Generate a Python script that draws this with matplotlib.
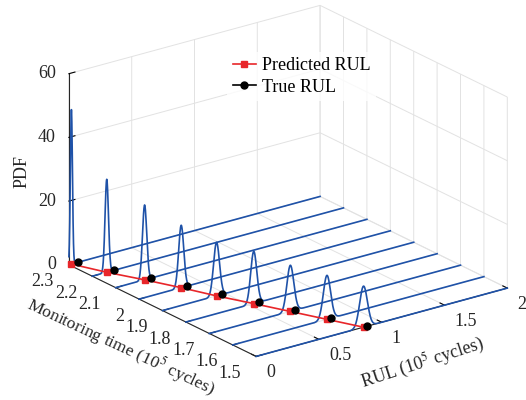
import numpy as np
import matplotlib
matplotlib.use("Agg")
import matplotlib.pyplot as plt
from matplotlib.lines import Line2D
from mpl_toolkits.mplot3d import proj3d

plt.rcParams["font.family"] = ["Liberation Serif", "DejaVu Serif"]
plt.rcParams["mathtext.fontset"] = "stix"

# monitoring times (1e5 cycles) and RUL estimates at each time
monitor_time = [2.3, 2.2, 2.1, 2.0, 1.9, 1.8, 1.7, 1.6, 1.5]
pred_rul = [0.02, 0.115, 0.23, 0.335, 0.43, 0.54, 0.645, 0.75, 0.855]
true_rul = [0.073, 0.174, 0.281, 0.379, 0.475, 0.581, 0.68, 0.78, 0.88]
pdf_peak = [48.5, 29.2, 23.5, 19.6, 16.8, 16.4, 14.5, 13.8, 12.9]

rul_ticks = [0, 0.5, 1, 1.5, 2]
rul_ticklabels = ["0", "0.5", "1", "1.5", "2"]
time_ticks = [1.5, 1.6, 1.7, 1.8, 1.9, 2.0, 2.1, 2.2, 2.3]
time_ticklabels = ["1.5", "1.6", "1.7", "1.8", "1.9", "2", "2.1", "2.2", "2.3"]
pdf_ticks = [0, 20, 40, 60]
pdf_ticklabels = ["0", "20", "40", "60"]

BLUE = "#1f52a8"
RED = "#e8262a"
GRID = "#e2e2e2"
AXC = "#262626"
FS = 13
W, H = 526, 400

fig = plt.figure(figsize=(W / 100, H / 100), dpi=100)
ax = fig.add_subplot(111, projection="3d", proj_type="ortho")
# square axes of 600 px centred on the projected box
S = 600
cx, cy = 280, 211
ax.set_position([(cx - S / 2) / W, (cy - S / 2) / H, S / W, S / H])
ax.computed_zorder = False
ax.view_init(elev=21.4, azim=-126.7)
ax.set_box_aspect((1, 1, 0.655), zoom=0.79)

rul_grid = np.linspace(0, 2, 1201)
for t, mu, peak in zip(monitor_time, pred_rul, pdf_peak):
    sigma = 1.0 / (peak * np.sqrt(2 * np.pi))
    pdf = peak * np.exp(-0.5 * ((rul_grid - mu) / sigma) ** 2)
    ax.plot(rul_grid, np.full_like(rul_grid, t), pdf, color=BLUE, lw=1.2,
            zorder=2, clip_on=False)

ax.plot(pred_rul, monitor_time, np.zeros(len(pred_rul)), color=RED, lw=1.2,
        marker="s", ms=5, zorder=4, clip_on=False)
ax.plot(true_rul, monitor_time, np.zeros(len(true_rul)), color="k", lw=0,
        marker="o", ms=5, zorder=5, clip_on=False)

ax.set_xlim(0, 2, view_margin=0)
ax.set_ylim(1.5, 2.3, view_margin=0)
ax.set_zlim(0, 60, view_margin=0)
ax.set_xticks(rul_ticks)
ax.set_yticks(time_ticks)
ax.set_zticks(pdf_ticks)
ax.set_xticklabels([])
ax.set_yticklabels([])
ax.set_zticklabels([])

for axis in (ax.xaxis, ax.yaxis, ax.zaxis):
    axis.set_pane_color((1, 1, 1, 0))
    axis.pane.set_edgecolor(GRID)
    axis.line.set_color(AXC)
    axis.line.set_linewidth(0.8)
    axis._axinfo["grid"]["color"] = GRID
    axis._axinfo["grid"]["linewidth"] = 0.7
    axis._axinfo["tick"]["inward_factor"] = 0.0
    axis._axinfo["tick"]["outward_factor"] = 0.3
    axis._axinfo["tick"]["color"] = AXC


# tick labels placed MATLAB-style next to the projected tick positions
fig.canvas.draw()
M = ax.get_proj()


def to_px(x, y, z):
    xs, ys, _ = proj3d.proj_transform(x, y, z, M)
    return ax.transData.transform((xs, ys))


for t, lab in zip(time_ticks, time_ticklabels):
    px, py = to_px(0, t, 0)
    fig.text((px - 15) / W, (py - 17) / H, lab, fontsize=FS, color=AXC,
             ha="right", va="center")
for r, lab in zip(rul_ticks, rul_ticklabels):
    px, py = to_px(r, 1.5, 0)
    fig.text((px + 10) / W, (py - 16.5) / H, lab, fontsize=FS, color=AXC,
             ha="left", va="center")
for z, lab in zip(pdf_ticks, pdf_ticklabels):
    px, py = to_px(0, 2.3, z)
    fig.text((px - 13) / W, py / H, lab, fontsize=FS, color=AXC,
             ha="right", va="center")

# axis titles
fig.text(121 / W, 1 - 346 / H, "Monitoring time (10$^5$ cycles)",
         fontsize=12.6, rotation=-25, ha="center", va="center",
         rotation_mode="anchor", color=AXC)
fig.text(423 / W, 1 - 363 / H, "RUL (10$^5$ cycles)",
         fontsize=FS, rotation=18, ha="center", va="center",
         rotation_mode="anchor", color=AXC)
fig.text(22 / W, 1 - 172 / H, "PDF", fontsize=FS, rotation=90,
         ha="center", va="center", color=AXC)

handles = [
    Line2D([], [], color=RED, marker="s", ms=5, lw=1.2),
    Line2D([], [], color="k", marker="o", ms=5, lw=1.2),
]
leg = fig.legend(handles, ["Predicted RUL", "True RUL"], loc="upper left",
                 bbox_to_anchor=(0.415, 0.893), fontsize=FS, frameon=True,
                 handlelength=1.3, handletextpad=0.3, borderpad=0.3,
                 labelspacing=0.25)
leg.get_frame().set_edgecolor("none")
leg.get_frame().set_facecolor("white")

fig.savefig("out.png", dpi=100)
